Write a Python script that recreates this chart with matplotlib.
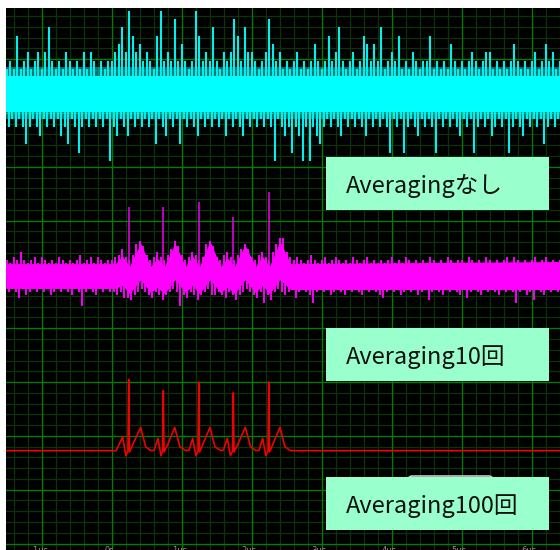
import matplotlib
matplotlib.use("Agg")
import matplotlib.pyplot as plt
from matplotlib.patches import Rectangle, FancyBboxPatch
import numpy as np

plt.rcParams['font.family'] = ['Noto Sans CJK JP', 'DejaVu Sans']

# time axis in us, vertical axis in screen divisions (0 = bottom graticule line)
tick_t = [-1, 0, 1, 2, 3, 4, 5, 6]
tick_labels = ['-1us', '0s', '1us', '2us', '3us', '4us', '5us', '6us']

# display columns every 0.05 us from -1.5 us to 6.4 us (159 columns)
col_t0, col_dt = -1.5, 0.05

# --- cyan trace: no averaging (8-bit steps of 0.155 div around 8.35 div) ---
cyan_center, cyan_step = 8.35, 0.155
cyan_up = [3, 4, 3, 7, 3, 4, 5, 3, 4, 5,
           3, 5, 8, 4, 3, 4, 3, 5, 4, 3,
           4, 3, 5, 3, 5, 4, 2, 4, 3, 4,
           4, 5, 6, 8, 5, 10, 7, 5, 6, 4,
           5, 4, 3, 7, 10, 4, 5, 4, 9, 4,
           6, 4, 3, 4, 10, 7, 4, 5, 4, 8,
           4, 3, 5, 4, 5, 9, 7, 4, 8, 5,
           5, 4, 3, 4, 5, 9, 6, 4, 5, 3,
           4, 3, 4, 5, 3, 4, 3, 4, 6, 4,
           3, 4, 7, 4, 5, 8, 4, 3, 4, 5,
           3, 4, 7, 6, 4, 6, 4, 8, 3, 4,
           5, 4, 7, 3, 4, 3, 5, 4, 3, 4,
           4, 7, 3, 4, 3, 4, 3, 6, 4, 3,
           4, 3, 4, 5, 4, 3, 4, 5, 5, 3,
           4, 3, 4, 3, 4, 6, 4, 3, 4, 3,
           4, 5, 3, 4, 6, 4, 5, 3, 4]
cyan_dn = [4, 3, 4, 3, 4, 6, 4, 3, 4, 5,
           3, 4, 3, 4, 3, 5, 4, 6, 3, 4,
           7, 4, 3, 4, 3, 4, 3, 4, 3, 8,
           4, 5, 3, 4, 5, 3, 4, 3, 4, 3,
           4, 3, 6, 3, 4, 5, 3, 4, 3, 6,
           3, 4, 3, 4, 5, 3, 4, 3, 4, 3,
           4, 3, 5, 3, 4, 3, 4, 5, 3, 4,
           3, 4, 3, 4, 3, 4, 8, 3, 4, 5,
           4, 7, 4, 5, 8, 4, 8, 4, 5, 6,
           4, 3, 4, 3, 4, 5, 3, 4, 3, 4,
           3, 4, 5, 3, 4, 3, 4, 3, 4, 7,
           3, 4, 3, 7, 4, 3, 4, 5, 3, 4,
           3, 4, 7, 3, 4, 3, 4, 3, 4, 5,
           3, 4, 3, 7, 4, 3, 4, 3, 5, 4,
           3, 4, 3, 7, 4, 3, 4, 5, 3, 4,
           3, 4, 3, 6, 4, 3, 4, 3, 4]

# --- magenta trace: 10 averages (steps of 0.05 div around 4.97 div) ---
mag_center, mag_step = 4.97, 0.05
mag_knot_t = [-1.52, 0.05, 0.15, 0.25, 0.41, 0.55, 0.65, 0.75, 0.90, 1.05, 1.15, 1.25,
              1.40, 1.55, 1.65, 1.75, 1.90, 2.05, 2.15, 2.25, 2.40, 2.55, 6.41]
mag_core_hi = [5.20, 5.20, 5.34, 5.15, 5.58, 5.15, 5.30, 5.15, 5.58, 5.15, 5.34, 5.15,
               5.62, 5.15, 5.30, 5.15, 5.55, 5.15, 5.34, 5.15, 5.62, 5.20, 5.24]
mag_core_lo = [4.74, 4.74, 4.80, 4.64, 4.90, 4.66, 4.76, 4.64, 4.90, 4.66, 4.80, 4.64,
               4.90, 4.66, 4.76, 4.64, 4.90, 4.66, 4.80, 4.64, 4.90, 4.72, 4.72]
mag_up = [6, 5, 7, 6, 9, 6, 5, 6, 7, 5,
          7, 6, 5, 6, 5, 7, 6, 5, 6, 5,
          6, 8, 5, 6, 7, 5, 7, 6, 5, 6,
          6, 7, 8, 10, 7, 6, 8, 12, 13, 11,
          8, 6, 7, 9, 7, 6, 8, 10, 13, 11,
          8, 6, 7, 9, 8, 6, 7, 12, 13, 11,
          7, 6, 8, 9, 7, 6, 8, 10, 12, 10,
          7, 6, 8, 9, 7, 6, 9, 12, 14, 14,
          9, 7, 6, 7, 6, 5, 6, 8, 6, 5,
          6, 7, 5, 6, 7, 6, 5, 6, 5, 7,
          6, 5, 6, 7, 5, 6, 5, 6, 5, 6,
          7, 5, 6, 5, 7, 6, 5, 6, 5, 6,
          5, 7, 6, 5, 6, 5, 7, 6, 5, 6,
          6, 5, 7, 6, 5, 6, 5, 7, 6, 5,
          6, 5, 6, 7, 5, 7, 6, 5, 6, 5,
          6, 7, 5, 6, 7, 5, 6, 5, 6]
mag_dn = [6, 5, 6, 8, 5, 7, 6, 5, 6, 5,
          6, 5, 7, 6, 5, 6, 5, 6, 7, 5,
          6, 11, 6, 5, 6, 7, 5, 6, 5, 6,
          6, 7, 6, 8, 8, 9, 7, 6, 5, 6,
          7, 8, 6, 7, 9, 7, 6, 5, 6, 11,
          7, 8, 6, 7, 9, 7, 6, 5, 7, 7,
          6, 7, 8, 6, 7, 9, 7, 6, 5, 6,
          7, 8, 6, 10, 7, 9, 6, 5, 6, 7,
          6, 5, 8, 6, 5, 6, 7, 10, 6, 5,
          6, 5, 7, 6, 5, 6, 7, 5, 6, 5,
          6, 7, 5, 6, 5, 6, 7, 8, 6, 5,
          6, 5, 7, 6, 5, 6, 5, 7, 6, 5,
          9, 6, 5, 6, 7, 5, 6, 5, 6, 7,
          5, 8, 6, 5, 6, 7, 5, 6, 5, 6,
          7, 5, 6, 5, 6, 10, 6, 5, 7, 6,
          9, 5, 6, 7, 5, 6, 5, 6, 7]
mag_sig_t = [0.239, 0.733, 1.239, 1.733, 2.239]
mag_sig_v = [6.26, 6.25, 6.35, 6.07, 6.54]

# --- red trace: 100 averages ---
red_t = [-1.52, 0.06, 0.153, 0.198, 0.228, 0.239, 0.250, 0.30, 0.41, 0.48, 0.55,
         0.60, 0.657, 0.70, 0.722, 0.733, 0.744, 0.80, 0.896, 0.97, 1.05,
         1.10, 1.153, 1.198, 1.228, 1.239, 1.250, 1.30, 1.400, 1.47, 1.55,
         1.59, 1.647, 1.692, 1.722, 1.733, 1.744, 1.80, 1.905, 1.98, 2.05,
         2.10, 2.153, 2.198, 2.228, 2.239, 2.250, 2.30, 2.400, 2.47, 2.55, 6.41]
red_v = [1.725, 1.725, 1.985, 1.63, 1.72, 3.05, 1.70, 1.85, 2.16, 1.80, 1.73,
         1.73, 1.955, 1.63, 1.72, 2.84, 1.70, 1.85, 2.16, 1.80, 1.73,
         1.73, 1.955, 1.63, 1.72, 3.00, 1.70, 1.85, 2.16, 1.80, 1.73,
         1.73, 1.955, 1.63, 1.72, 2.80, 1.70, 1.85, 2.16, 1.80, 1.73,
         1.73, 1.955, 1.63, 1.72, 3.00, 1.70, 1.85, 2.16, 1.80, 1.725, 1.725]

labels = ['Averagingなし', 'Averaging10回', 'Averaging100回']

fig = plt.figure(figsize=(5.6, 5.5), dpi=100, facecolor='white')
ax = fig.add_axes([6 / 560, 0, 554 / 560, 542 / 550])
ax.set_facecolor('black')
ax.set_xlim(-1.514, 6.4)
ax.set_ylim(-0.12, 9.95)

# graticule
for x in np.arange(-1.4, 6.41, 0.2):
    ax.axvline(x, color='#0a330a', lw=0.9, zorder=0)
for y in np.arange(0, 10.01, 0.2):
    ax.axhline(y, color='#0a330a', lw=0.9, zorder=0)
for x in tick_t:
    ax.axvline(x, color='#007f00', lw=0.9, zorder=0)
for y in range(0, 11):
    ax.axhline(y, color='#007f00', lw=0.9, zorder=0)
ax.set_xticks([])
ax.set_yticks([])
for s in ax.spines.values():
    s.set_visible(False)

for t, lab in zip(tick_t, tick_labels):
    ax.text(t - 0.04, -0.04, lab, color='#909090', fontsize=6, ha='center', va='top',
            family='DejaVu Sans')

col_t = col_t0 + col_dt * np.arange(len(cyan_up))

# cyan
ax.fill_between([-1.52, 6.41], cyan_center - 3.0 * cyan_step, cyan_center + 3.2 * cyan_step,
                color='#00ffff', alpha=0.45, lw=0, zorder=2)
ax.fill_between([-1.52, 6.41], cyan_center - 2.1 * cyan_step, cyan_center + 2.2 * cyan_step,
                color='#00ffff', lw=0, zorder=3)
ax.vlines(col_t, cyan_center, cyan_center + cyan_step * np.array(cyan_up),
          color='#00f0f0', lw=1.5, zorder=2)
ax.vlines(col_t + col_dt / 2, cyan_center, cyan_center - cyan_step * np.array(cyan_dn),
          color='#00f0f0', lw=1.5, zorder=2)

# magenta
ax.fill_between(mag_knot_t, mag_core_lo, mag_core_hi, color='#ff00ff', lw=0, zorder=3)
ax.vlines(col_t, mag_center, mag_center + mag_step * np.array(mag_up),
          color='#f000f0', lw=1.5, zorder=2)
ax.vlines(col_t + col_dt / 2, mag_center, mag_center - mag_step * np.array(mag_dn),
          color='#f000f0', lw=1.5, zorder=2)
ax.vlines(mag_sig_t, mag_center, mag_sig_v, color='#e000e0', lw=1.2, zorder=2)

# red
ax.plot(red_t, red_v, color='#f00000', lw=1.2, zorder=3)

# label boxes (pixel rows of the screenshot)
box_top = [157, 328, 477]
box_h = 53
fig.add_artist(FancyBboxPatch((408 / 560, 1 - 486 / 550), 85 / 560, 10 / 550,
                              boxstyle='round,pad=0,rounding_size=0.008',
                              transform=fig.transFigure, facecolor='#202020',
                              edgecolor='#c8c8c8', lw=1.2))
for top, lab in zip(box_top, labels):
    fig.add_artist(Rectangle((326 / 560, 1 - (top + box_h) / 550), 223 / 560, box_h / 550,
                             transform=fig.transFigure, facecolor='#99ffcc', edgecolor='none'))
    fig.text(346 / 560, 1 - (top + 36) / 550, lab, fontsize=17, color='#101010',
             va='baseline', ha='left')

fig.savefig('out.png', dpi=100, facecolor='white')
